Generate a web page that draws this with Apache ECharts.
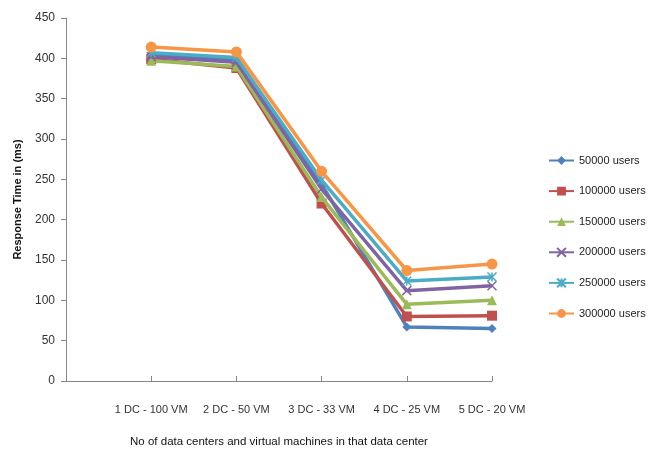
<!DOCTYPE html>
<html>
<head>
<meta charset="utf-8">
<script src="https://cdn.jsdelivr.net/npm/echarts@6/dist/echarts.min.js"></script>
<style>html,body{margin:0;padding:0;background:#fff}#c{width:659px;height:453px}</style>
</head>
<body>
<div id="c"></div>
<script>
var categories = ['', '1 DC - 100 VM', '2 DC - 50 VM', '3 DC - 33 VM', '4 DC - 25 VM', '5 DC - 20 VM'];
var seriesNames = ['50000 users', '100000 users', '150000 users', '200000 users', '250000 users', '300000 users'];
var users50000  = [null, 405, 398, 244, 67, 65];
var users100000 = [null, 399, 388, 220, 80, 81];
var users150000 = [null, 397, 390, 228, 95, 100];
var users200000 = [null, 402, 395, 238, 112, 118];
var users250000 = [null, 407, 401, 249, 124, 129];
var users300000 = [null, 414, 408, 260, 137, 145];
var yTicks = [0, 50, 100, 150, 200, 250, 300, 350, 400, 450];

var colors = ['#4F81BD', '#C0504D', '#9BBB59', '#8064A2', '#4BACC6', '#F79646'];
var symbols = ['diamond', 'rect', 'triangle',
  'path://M0,0L10,10M10,0L0,10',
  'path://M0,0L10,10M10,0L0,10M5,0L5,10',
  'circle'];
var sizes = [9, 10, 10, 9, 9, 11];
var dataList = [users50000, users100000, users150000, users200000, users250000, users300000];
var font = 'Liberation Sans, Arial, sans-serif';

var series = seriesNames.map(function (n, i) {
  var strokeOnly = i === 3 || i === 4;
  return {
    name: n, type: 'line', data: dataList[i],
    symbol: symbols[i], symbolSize: sizes[i], showSymbol: true,
    lineStyle: { color: colors[i], width: 3.5 },
    itemStyle: strokeOnly ? { color: 'rgba(0,0,0,0)', borderColor: colors[i], borderWidth: 1.5 }
                          : { color: colors[i], borderWidth: 0 },
    emphasis: { disabled: true },
    z: 2 + i
  };
});

var chart = echarts.init(document.getElementById('c'), null, { renderer: 'canvas' });
chart.setOption({
  animation: false,
  color: colors,
  grid: { left: 66, right: 167, top: 18, bottom: 69, containLabel: false },
  legend: {
    orient: 'vertical', left: 543, top: 150,
    itemWidth: 25, itemHeight: 11, itemGap: 19.6,
    textStyle: { fontFamily: font, fontSize: 11, color: '#222' },
    data: seriesNames
  },
  xAxis: {
    type: 'category', data: categories, boundaryGap: false,
    name: 'No of data centers and virtual machines in that data center',
    nameLocation: 'middle', nameGap: 55,
    nameTextStyle: { fontFamily: font, fontSize: 11.5, color: '#111' },
    axisLine: { lineStyle: { color: '#868686', width: 1 } },
    axisTick: { inside: true, length: 5, interval: 0, lineStyle: { color: '#868686' } },
    axisLabel: { interval: 0, margin: 23, fontFamily: font, fontSize: 11, color: '#333' },
    splitLine: { show: false }
  },
  yAxis: {
    type: 'value', min: 0, max: 450, interval: 50,
    name: 'Response Time in (ms)', nameLocation: 'middle', nameGap: 43,
    nameTextStyle: { fontFamily: font, fontSize: 11, fontWeight: 'bold', color: '#111' },
    axisLine: { show: true, lineStyle: { color: '#868686', width: 1 } },
    axisTick: { show: true, length: 5, lineStyle: { color: '#868686' } },
    axisLabel: { margin: 11, fontFamily: font, fontSize: 12, color: '#333',
      formatter: function (v) { return yTicks.indexOf(v) >= 0 ? String(v) : ''; } },
    splitLine: { show: false }
  },
  series: series
});
</script>
</body>
</html>
